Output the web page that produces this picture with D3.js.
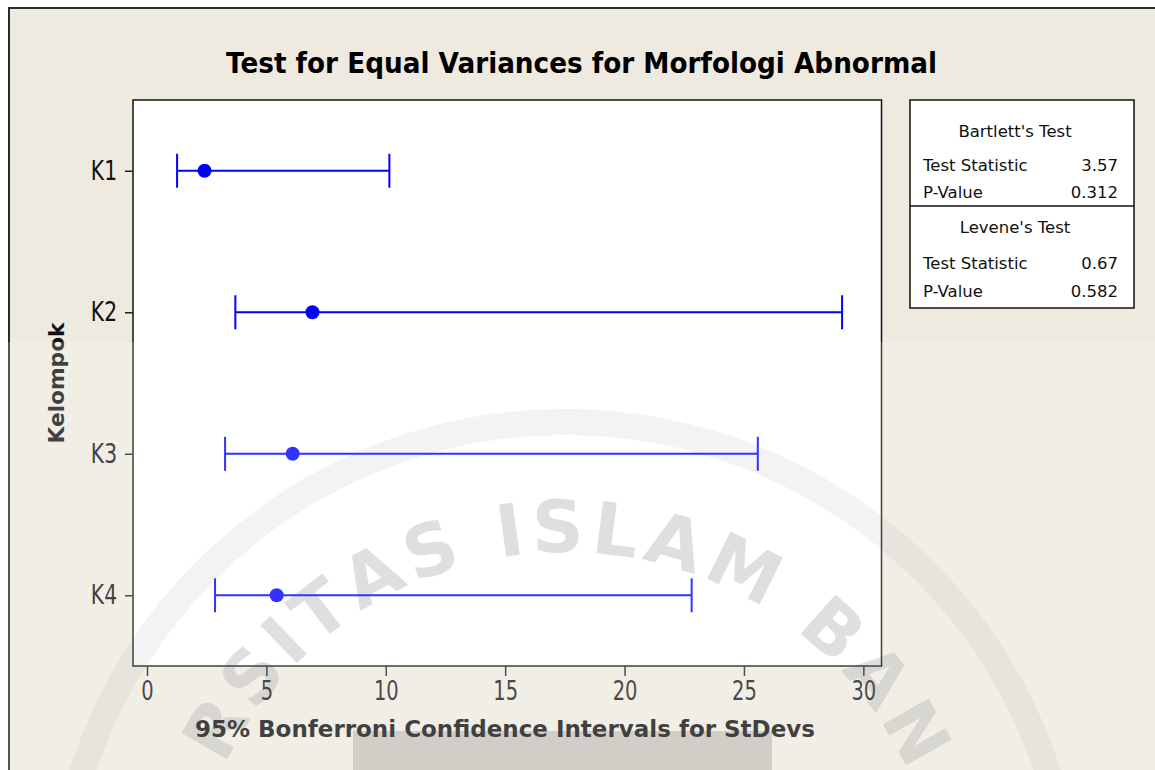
<!DOCTYPE html>
<html>
<head>
<meta charset="utf-8">
<script src="https://cdn.jsdelivr.net/npm/d3@7"></script>
<style>
  html, body { margin: 0; padding: 0; background: #fff; }
  #chart { width: 1155px; height: 770px; }
  text { font-family: "DejaVu Sans", sans-serif; }
</style>
</head>
<body>
<div id="chart"></div>
<script>
// Data
const groups = ['K1', 'K2', 'K3', 'K4'];
const lowerCI = [1.26, 3.70, 3.27, 2.85];
const stdevs = [2.41, 6.93, 6.10, 5.43];
const upperCI = [10.15, 29.11, 25.58, 22.81];
const xTicks = [0, 5, 10, 15, 20, 25, 30];

const bartlettRows = [['Test Statistic', '3.57'], ['P-Value', '0.312']];
const leveneRows = [['Test Statistic', '0.67'], ['P-Value', '0.582']];

const titleText = 'Test for Equal Variances for Morfologi Abnormal';
const xLabel = '95% Bonferroni Confidence Intervals for StDevs';
const yLabel = 'Kelompok';
const watermark = 'UNIVERSITAS ISLAM BANDUNG';

function drawChart() {
  const W = 1155, H = 770;
  const plot = { left: 133, top: 100, right: 881.5, bottom: 666 };
  const blue = '#0000ff';
  const squeeze = 0.75; // tick labels are narrow in the original

  const svg = d3.select('#chart').append('svg')
    .attr('width', W).attr('height', H);

  // outer frame
  svg.append('rect')
    .attr('x', 9).attr('y', 8).attr('width', W).attr('height', H)
    .attr('fill', '#eeeae0').attr('stroke', '#2a2a2a').attr('stroke-width', 2);

  // plot area
  svg.append('rect')
    .attr('x', plot.left).attr('y', plot.top)
    .attr('width', plot.right - plot.left).attr('height', plot.bottom - plot.top)
    .attr('fill', '#fff');

  // watermark (logo ring + lettering)
  const wm = svg.append('g');
  const cx = 565, cy = 930;
  wm.append('circle')
    .attr('cx', cx).attr('cy', cy).attr('r', 508)
    .attr('fill', 'none').attr('stroke', '#999').attr('stroke-width', 26)
    .attr('opacity', 0.15);
  wm.append('rect')
    .attr('x', 353).attr('y', 731).attr('width', 419).attr('height', 60)
    .attr('fill', '#c6c2bb');

  // letters laid out along the ring by their own widths
  const wmSize = 72, wmSpacing = 6, rBase = 378;
  const probe = svg.append('text')
    .attr('font-size', wmSize).attr('font-weight', 'bold');
  const widths = watermark.split('').map(ch => {
    probe.text(ch === ' ' ? '\u00a0' : ch);
    return probe.node().getComputedTextLength();
  });
  probe.remove();
  const centers = [];
  let acc = 0;
  widths.forEach(w => { centers.push(acc + w / 2); acc += w + wmSpacing; });
  const anchorIdx = 5;            // the "R" sits at about -60 degrees
  const anchorAngle = -60;
  watermark.split('').forEach((ch, i) => {
    if (ch === ' ') return;
    const deg = anchorAngle + (centers[i] - centers[anchorIdx]) / rBase * 180 / Math.PI;
    const a = deg * Math.PI / 180;
    const px = cx + rBase * Math.sin(a), py = cy - rBase * Math.cos(a);
    const midY = cy - (rBase + 27) * Math.cos(a);
    if (midY > H - 4) return;
    wm.append('text')
      .attr('x', px).attr('y', py)
      .attr('transform', `rotate(${deg},${px},${py})`)
      .attr('text-anchor', 'middle')
      .attr('font-size', wmSize).attr('font-weight', 'bold')
      .attr('fill', '#a8a8a8').attr('opacity', 0.45)
      .text(ch);
  });

  svg.append('rect')
    .attr('x', plot.left).attr('y', plot.top)
    .attr('width', plot.right - plot.left).attr('height', plot.bottom - plot.top)
    .attr('fill', 'none').attr('stroke', '#111').attr('stroke-width', 1.5);

  const x = d3.scaleLinear()
    .domain([-0.586, 30.76])
    .range([plot.left, plot.right]);

  const y = d3.scalePoint()
    .domain(groups)
    .range([plot.top, plot.bottom])
    .padding(0.5);

  // x axis
  const xAxis = svg.append('g')
    .attr('transform', `translate(0,${plot.bottom})`)
    .call(d3.axisBottom(x).tickValues(xTicks).tickSize(10).tickPadding(6).tickFormat(d3.format('d')));
  xAxis.select('.domain').remove();
  xAxis.selectAll('line').attr('stroke', '#222').attr('stroke-width', 1.5);
  xAxis.selectAll('text')
    .attr('font-size', 26).attr('fill', '#1a1a1a')
    .attr('transform', `scale(${squeeze},1)`);

  // y axis
  const yAxis = svg.append('g')
    .attr('transform', `translate(${plot.left},0)`)
    .call(d3.axisLeft(y).tickSize(8));
  yAxis.select('.domain').remove();
  yAxis.selectAll('line').attr('stroke', '#222').attr('stroke-width', 1.5);
  yAxis.selectAll('text')
    .attr('font-size', 27).attr('fill', '#111')
    .attr('x', -16 / squeeze)
    .attr('transform', `scale(${squeeze},1)`);

  // intervals
  const rows = groups.map((g, i) => ({ g, lo: lowerCI[i], sd: stdevs[i], hi: upperCI[i] }));
  const marks = svg.append('g');
  marks.selectAll('.ci')
    .data(rows).enter().append('line')
    .attr('x1', d => x(d.lo)).attr('x2', d => x(d.hi))
    .attr('y1', d => y(d.g)).attr('y2', d => y(d.g))
    .attr('stroke', blue).attr('stroke-width', 2);
  ['lo', 'hi'].forEach(k => {
    marks.selectAll('.cap-' + k)
      .data(rows).enter().append('line')
      .attr('x1', d => x(d[k])).attr('x2', d => x(d[k]))
      .attr('y1', d => y(d.g) - 17).attr('y2', d => y(d.g) + 17)
      .attr('stroke', blue).attr('stroke-width', 2);
  });
  marks.selectAll('.dot')
    .data(rows).enter().append('circle')
    .attr('cx', d => x(d.sd)).attr('cy', d => y(d.g))
    .attr('r', 7).attr('fill', blue);

  // titles
  svg.append('text')
    .attr('x', 581.5).attr('y', 73)
    .attr('text-anchor', 'middle')
    .attr('font-size', 29).attr('font-weight', 'bold').attr('fill', '#000')
    .attr('textLength', 711).attr('lengthAdjust', 'spacingAndGlyphs')
    .text(titleText);

  svg.append('text')
    .attr('x', 505).attr('y', 737)
    .attr('text-anchor', 'middle')
    .attr('font-size', 23).attr('font-weight', 'bold').attr('fill', '#111')
    .attr('textLength', 620).attr('lengthAdjust', 'spacingAndGlyphs')
    .text(xLabel);

  svg.append('text')
    .attr('transform', `translate(64,${(plot.top + plot.bottom) / 2}) rotate(-90)`)
    .attr('text-anchor', 'middle')
    .attr('font-size', 22).attr('font-weight', 'bold').attr('fill', '#111')
    .attr('textLength', 121).attr('lengthAdjust', 'spacingAndGlyphs')
    .text(yLabel);

  // test summary box
  const box = { x: 910, y: 100, w: 224, h: 208, split: 206 };
  const lg = svg.append('g');
  lg.append('rect')
    .attr('x', box.x).attr('y', box.y).attr('width', box.w).attr('height', box.h)
    .attr('fill', '#fff').attr('stroke', '#111').attr('stroke-width', 1.5);
  lg.append('line')
    .attr('x1', box.x).attr('x2', box.x + box.w)
    .attr('y1', box.split).attr('y2', box.split)
    .attr('stroke', '#111').attr('stroke-width', 1.5);

  function section(title, rowsData, yTitle, yRows) {
    lg.append('text')
      .attr('x', box.x + 105).attr('y', yTitle)
      .attr('text-anchor', 'middle').attr('font-size', 16.5).attr('fill', '#111')
      .text(title);
    rowsData.forEach((r, i) => {
      lg.append('text')
        .attr('x', box.x + 13).attr('y', yRows[i])
        .attr('font-size', 16.5).attr('fill', '#111')
        .text(r[0]);
      lg.append('text')
        .attr('x', box.x + 208).attr('y', yRows[i])
        .attr('text-anchor', 'end').attr('font-size', 16.5).attr('fill', '#111')
        .text(r[1]);
    });
  }
  section("Bartlett's Test", bartlettRows, 137, [171, 198]);
  section("Levene's Test", leveneRows, 233, [269, 297]);

  // washed lower part from the scanned watermark overlay
  svg.append('rect')
    .attr('x', 0).attr('y', 342).attr('width', W).attr('height', H - 342)
    .attr('fill', '#fff').attr('opacity', 0.2);
}

drawChart();
</script>
</body>
</html>
